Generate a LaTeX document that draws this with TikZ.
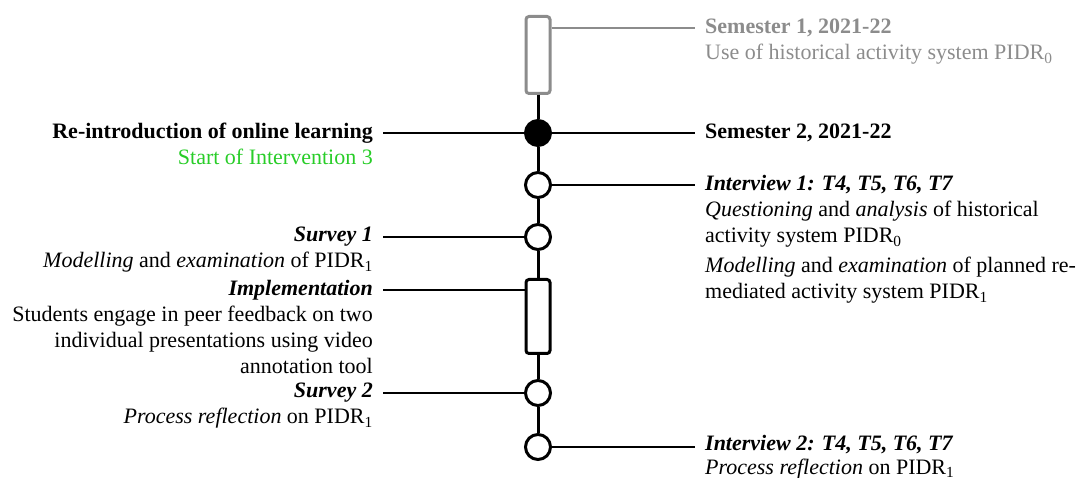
\documentclass[tikz,border=0pt]{standalone}
\usepackage{fontspec}
\setmainfont{Liberation Serif}
\definecolor{semgray}{RGB}{140,140,140}
\definecolor{intgreen}{RGB}{40,205,40}

\begin{document}
\begin{tikzpicture}[x=1pt,y=-1pt,
  every node/.style={font=\fontsize{22}{26}\selectfont, inner sep=0pt},
  event/.style={circle, draw, line width=3pt, minimum size=25pt, fill=white},
  milestone/.style={circle, draw, line width=3pt, minimum size=25pt, fill=black},
  period/.style={rectangle, rounded corners=3pt, draw, line width=3pt,
                 minimum width=24pt, fill=white},
  axis/.style={line width=3pt},
  link/.style={line width=2pt},
  % labels are placed by the baseline of their last line
  rtext/.style={anchor=base west, align=left},
  ltext/.style={anchor=base east, align=right},
]
\useasboundingbox (0,0) rectangle (1077,478);

% timeline stations
\node[period, draw=semgray, minimum height=77pt] (sem1) at (538,55) {};
\node[milestone] (sem2) at (538,133) {};
\node[event] (int1) at (538,185) {};
\node[event] (sur1) at (538,237) {};
\node[period, minimum height=74pt] (impl) at (538,316.5) {};
\node[event] (sur2) at (538,393) {};
\node[event] (int2) at (538,447) {};

% vertical axis
\draw[axis] (sem1.south) -- (sem2.north);
\draw[axis] (sem2.south) -- (int1.north);
\draw[axis] (int1.south) -- (sur1.north);
\draw[axis] (sur1.south) -- (impl.north);
\draw[axis] (impl.south) -- (sur2.north);
\draw[axis] (sur2.south) -- (int2.north);

% free ends of the leader lines
\coordinate (sem1R) at (695,28);
\coordinate (sem2R) at (695,133);
\coordinate (sem2L) at (383,133);
\coordinate (int1R) at (695,185);
\coordinate (sur1L) at (383,237);
\coordinate (implL) at (383,290);
\coordinate (sur2L) at (383,393);
\coordinate (int2R) at (695,447);

\draw[link, semgray] (sem1R -| sem1.east) -- (sem1R);
\draw[link] (sem2L) -- (sem2.west);
\draw[link] (sem2.east) -- (sem2R);
\draw[link] (int1.east) -- (int1R);
\draw[link] (sur1L) -- (sur1.west);
\draw[link] (implL) -- (implL -| impl.west);
\draw[link] (sur2L) -- (sur2.west);
\draw[link] (int2.east) -- (int2R);

% right-hand labels
\node[rtext, text=semgray] (sem1txt) at (705,60)
  {\textbf{Semester 1, 2021-22}\\Use of historical activity system PIDR\textsubscript{0}};
\node[rtext] (sem2txt) at (705,139) {\textbf{Semester 2, 2021-22}};
\node[rtext] (int1txt) at (705,299)
  {\textbf{\textit{Interview 1: T4, T5, T6, T7}}\\
   \textit{Questioning} and \textit{analysis} of historical\\
   activity system PIDR\textsubscript{0}\\[4pt]
   \textit{Modelling} and \textit{examination} of planned re-\\
   mediated activity system PIDR\textsubscript{1}};
\node[rtext] (int2txt) at (705,474)
  {\textbf{\textit{Interview 2: T4, T5, T6, T7}}\\[-2pt]
   \textit{Process reflection} on PIDR\textsubscript{1}};

% left-hand labels
\node[ltext] (reintro) at (373,165)
  {\textbf{Re-introduction of online learning}\\
   \textcolor{intgreen}{Start of Intervention 3}};
\node[ltext] (sur1txt) at (373,268)
  {\textbf{\textit{Survey 1}}\\
   \textit{Modelling} and \textit{examination} of PIDR\textsubscript{1}};
\node[ltext] (impltxt) at (373,374)
  {\textbf{\textit{Implementation}}\\
   Students engage in peer feedback on two\\
   individual presentations using video\\
   annotation tool};
\node[ltext] (sur2txt) at (373,424)
  {\textbf{\textit{Survey 2}}\\
   \textit{Process reflection} on PIDR\textsubscript{1}};
\end{tikzpicture}
\end{document}
